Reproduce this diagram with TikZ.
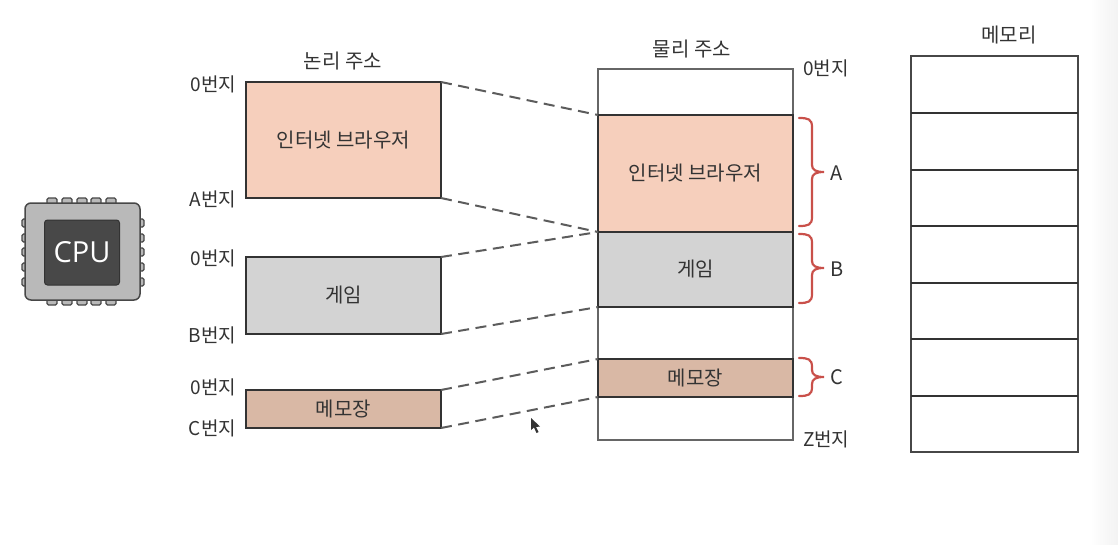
\documentclass[tikz,border=0pt]{standalone}
\usepackage{fontspec}
\setmainfont{Noto Sans CJK KR}
\newfontfamily\latinfont{Open Sans}
\usetikzlibrary{calc}
\definecolor{ink}{HTML}{333333}
\definecolor{peach}{HTML}{F6CFBC}
\definecolor{greybox}{HTML}{D3D3D3}
\definecolor{tan}{HTML}{D9B8A5}
\definecolor{bracered}{HTML}{C9504A}
\definecolor{chip}{HTML}{B9B9B9}
\definecolor{chipdark}{HTML}{484848}
\tikzset{
  every node/.style={inner sep=0pt,outer sep=0pt,text=ink},
  memblock/.style={draw=ink,line width=1.5pt,anchor=north west,font=\fontsize{20}{24}\selectfont},
  frameblock/.style={draw=ink!75,line width=1.2pt,anchor=north west},
  slotline/.style={draw=ink,line width=1.2pt},
  addr/.style={font=\fontsize{19}{23}\selectfont,anchor=east},
  addrr/.style={font=\fontsize{19}{23}\selectfont,anchor=west},
  title/.style={font=\fontsize{20}{24}\selectfont},
  link/.style={draw=ink!80,line width=2pt,dash pattern=on 11pt off 6.5pt},
  bracemark/.style={draw=bracered,line width=2.2pt,line cap=round},
  bracelabel/.style={font=\fontsize{20}{24}\selectfont,anchor=west},
  pin/.style={draw=ink!90,fill=chip,line width=1.2pt,rounded corners=1.5pt}
}
\newcommand{\membox}[7]{\node[memblock,fill=#6,minimum width=#4pt,minimum height=#5pt] (#1) at (#2,#3) {\raisebox{-2pt}{#7}};}
\newcommand{\curlymark}[3]{%
  \draw[bracemark] (799,#1) .. controls (808,#1) and (812,#1+1) .. (812,#1+9)
    -- (812,#2-7) .. controls (812,#2-2) and (816,#2) .. (824,#2)
    .. controls (816,#2) and (812,#2+2) .. (812,#2+7)
    -- (812,#3-9) .. controls (812,#3-1) and (808,#3) .. (799,#3);}
\begin{document}
\begin{tikzpicture}[x=1pt,y=-1pt]
\useasboundingbox (0,0) rectangle (1118,544);
\fill[white] (0,0) rectangle (1118,544);
\shade[left color=white,right color=black!5,draw=none] (1090,0) rectangle (1118,544);

% CPU chip
\foreach \p in {52,67,82,96,111}{
  \draw[pin] (\p-5,198) rectangle (\p+5,207);
  \draw[pin] (\p-5,296) rectangle (\p+5,305);
}
\foreach \p in {223,238,252,267,282}{
  \draw[pin] (22,\p-4) rectangle (30,\p+4);
  \draw[pin] (136,\p-4) rectangle (144,\p+4);
}
\draw[draw=ink!90,fill=chip,line width=1.5pt,rounded corners=6pt] (25,203) rectangle (140,300);
\node[fill=chipdark,draw=ink,line width=1pt,rounded corners=3pt,minimum width=75pt,minimum height=65pt,text=white,font=\latinfont\fontsize{29}{32}\selectfont] (cpu) at (82,252.5) {CPU};

% Titles
\node[title] (tlog) at (343,61) {논리 주소};
\node[title] (tphy) at (692,49) {물리 주소};
\node[title] (tmem) at (1009,35) {메모리};

% Logical blocks
\membox{lbrowser}{246}{82}{195}{116}{peach}{인터넷 브라우저}
\membox{lgame}{246}{257}{195}{77}{greybox}{게임}
\membox{lmemo}{246}{390}{195}{38}{tan}{메모장}

% Physical frame and blocks
\node[frameblock,minimum width=195pt,minimum height=371pt] (pframe) at (598,69) {};
\membox{pbrowser}{598}{115}{195}{117}{peach}{인터넷 브라우저}
\membox{pgame}{598}{232}{195}{75}{greybox}{게임}
\membox{pmemo}{598}{359}{195}{38}{tan}{메모장}

% Memory
\node[memblock,draw=ink!90,line width=1.3pt,minimum width=167pt,minimum height=396pt] (memory) at (911,56) {};
\foreach \yy in {113,170,226,283,339,396}{
  \coordinate (ml\yy) at (911,\yy);
  \coordinate (mr\yy) at (1078,\yy);
  \draw[slotline] (ml\yy) -- (mr\yy);
}

% Address labels
\node[addr] (a1) at (236,84) {0번지};
\node[addr] (a2) at (236,199) {A번지};
\node[addr] (a3) at (236,258) {0번지};
\node[addr] (a4) at (236,335) {B번지};
\node[addr] (a5) at (236,387) {0번지};
\node[addr] (a6) at (236,428) {C번지};
\node[addrr] (a7) at (803,68) {0번지};
\node[addrr] (a8) at (803,439) {Z번지};

% Dashed mapping lines
\draw[link] (lbrowser.north east) -- (pbrowser.north west);
\draw[link] (lbrowser.south east) -- (pbrowser.south west);
\draw[link] (lgame.north east) -- (pgame.north west);
\draw[link] (lgame.south east) -- (pgame.south west);
\draw[link] (lmemo.north east) -- (pmemo.north west);
\draw[link] (lmemo.south east) -- (pmemo.south west);

% Braces
\curlymark{118}{172}{226}
\curlymark{234}{268}{303}
\curlymark{358}{377}{396}
\node[bracelabel] (la) at (830,173) {A};
\node[bracelabel] (lb) at (830,269) {B};
\node[bracelabel] (lc) at (830,377) {C};

% Mouse pointer
\fill[ink] (531,418) -- (531,430) -- (534,427.5) -- (536.5,433) -- (538.5,432) -- (536,427) -- (540,426.5) -- cycle;
\end{tikzpicture}
\end{document}
